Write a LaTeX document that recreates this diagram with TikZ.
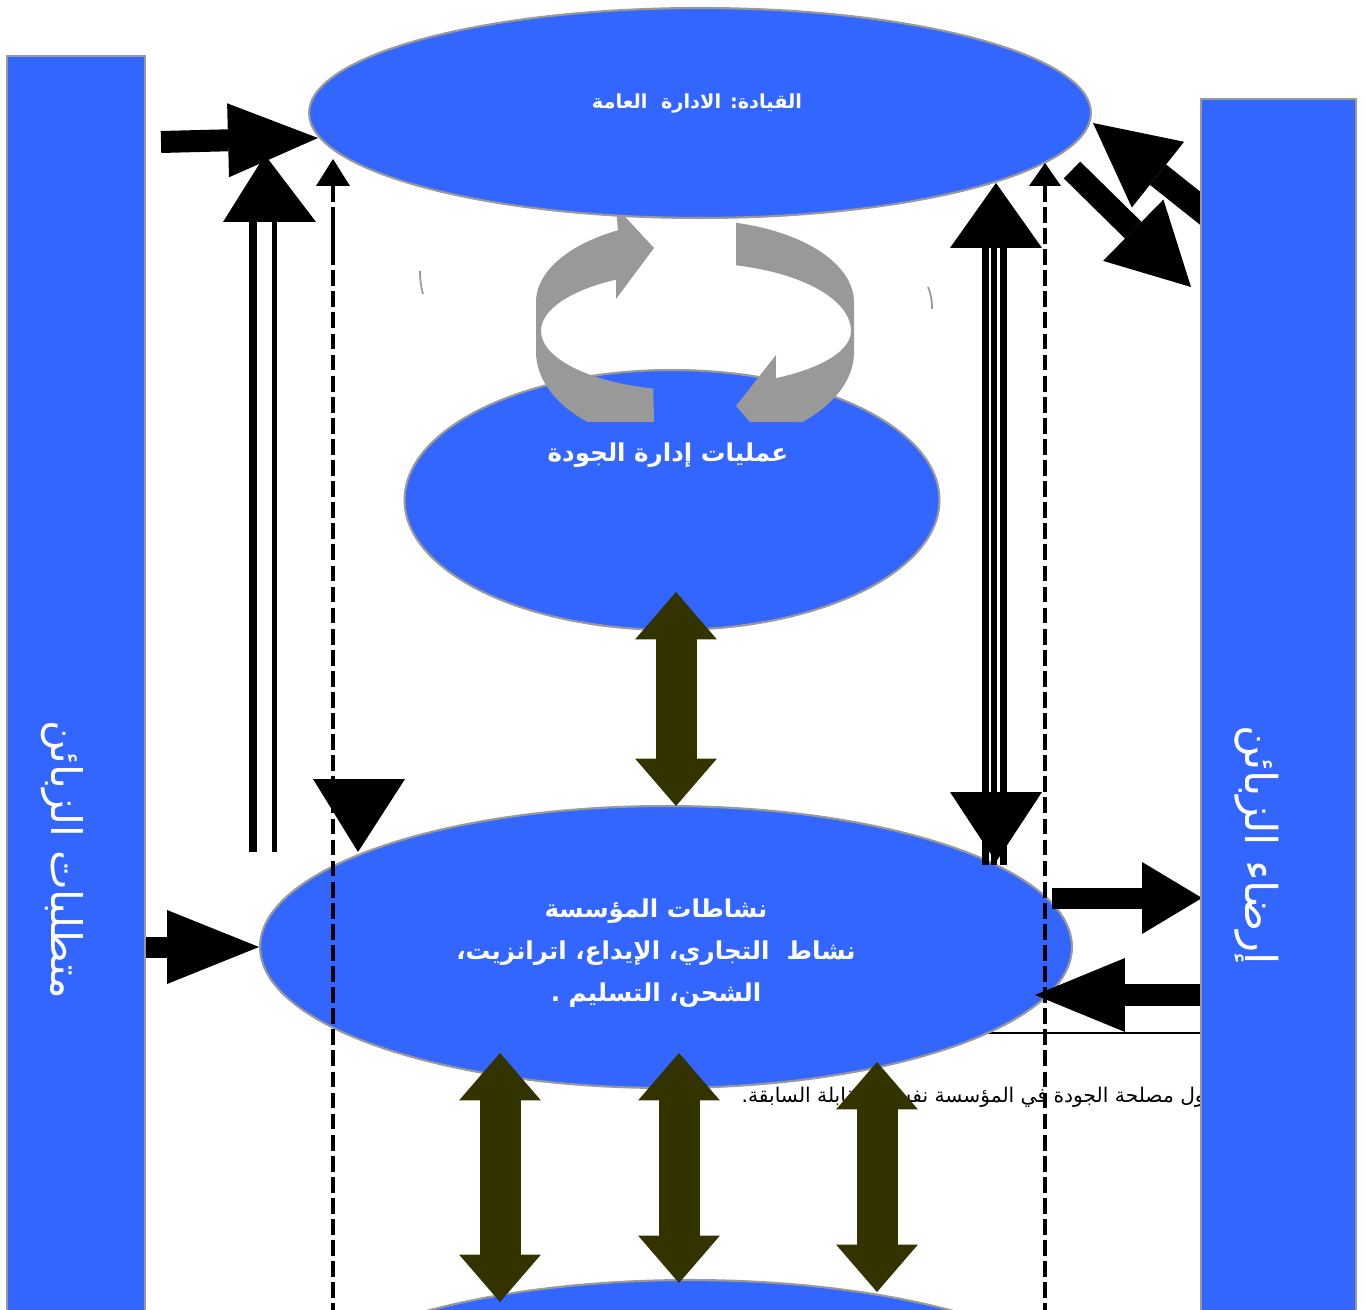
\documentclass[tikz,border=0pt]{standalone}
\usepackage{fontspec}
\newfontfamily\arabicfont[Script=Arabic]{DejaVu Sans}
\TeXXeTstate=1
\usetikzlibrary{shapes.geometric,arrows.meta}
\definecolor{boxblue}{HTML}{3366FF}
\definecolor{darkolive}{HTML}{333300}
\definecolor{rimgray}{HTML}{999999}
\tikzset{
  blob/.style={ellipse, draw=rimgray, line width=1.2pt, fill=boxblue, inner sep=0pt},
  bar/.style={rectangle, draw=rimgray, line width=1.2pt, fill=boxblue, inner sep=0pt},
  lbl/.style={text=white, align=center, inner sep=0pt},
  dashline/.style={line width=2pt, dash pattern=on 9pt off 3pt},
  twoway/.style={darkolive, line width=0.82cm,
    {Triangle[length=0.95cm,width=1.64cm,line width=0pt]}-{Triangle[length=0.95cm,width=1.64cm,line width=0pt]}},
}

\begin{document}
\begin{tikzpicture}[x=0.02cm,y=-0.02cm]
\clip (0,0) rectangle (1365,1310);

% note under the activities
\node[anchor=east, inner sep=0pt, font=\arabicfont\fontsize{11.5}{13}\selectfont] (note) at (1205,1097)
  {\beginR ول مصلحة الجودة في المؤسسة نفس المقابلة السابقة.\endR};
\draw[line width=0.8pt] (985,1033) -- (1202,1033);

% ellipses
\node[blob, minimum width=10.7cm, minimum height=5.2cm] (qproc) at (672,500) {};
\node[blob, minimum width=16.24cm, minimum height=5.64cm] (acts) at (666,947) {};
\node[blob, minimum width=16.8cm, minimum height=5.6cm] (next) at (690,1420) {};

% cycle arrows
\fill[rimgray] (616,207) -- (654,248) -- (616,299) -- (616,279)
  -- plot[domain=121:180,variable=\t,samples=20] ({696+155*cos(\t)},{331-60*sin(\t)})
  -- plot[domain=180:254,variable=\t,samples=20] ({696+155*cos(\t)},{331-60*sin(\t)})
  -- (654,422) -- (588,422)
  -- plot[domain=227.5:180,variable=\t,samples=20] ({695+159*cos(\t)},{352-95*sin(\t)})
  -- plot[domain=180:119,variable=\t,samples=20] ({695+159*cos(\t)},{302-82*sin(\t)})
  -- cycle;
\fill[rimgray] (736,214) -- (736,265)
  -- plot[domain=75:0,variable=\t,samples=20] ({696+155*cos(\t)},{331-68*sin(\t)})
  -- plot[domain=0:-59,variable=\t,samples=20] ({696+155*cos(\t)},{331-55*sin(\t)})
  -- (776,355) -- (736,406) -- (750,422) -- (795,422)
  -- plot[domain=-47.5:0,variable=\t,samples=20] ({695+159*cos(\t)},{352-95*sin(\t)})
  -- plot[domain=0:75,variable=\t,samples=20] ({695+159*cos(\t)},{302-82*sin(\t)})
  -- cycle;
\draw[rimgray, line width=1pt] (420,271) .. controls (420,280) and (421,287) .. (423,294);
\draw[rimgray, line width=1pt] (928,287) .. controls (931,294) and (932,300) .. (932,309);

\node[blob, minimum width=15.64cm, minimum height=4.2cm] (lead) at (700,113) {};

% labels
\node[lbl, font=\arabicfont\bfseries\fontsize{11}{13}\selectfont] at (697,104) {\beginR القيادة: الادارة\ \ العامة\endR};
\node[lbl, font=\arabicfont\bfseries\fontsize{14}{17}\selectfont] at (668,455) {\beginR عمليات إدارة الجودة\endR};
\node[lbl, font=\arabicfont\bfseries\fontsize{14}{24}\selectfont] at (656,953)
  {\beginR نشاطات المؤسسة\endR\\ \beginR نشاط\ \ التجاري، الإيداع، اترانزيت،\endR\\ \beginR الشحن، التسليم .\endR};

% olive two-way arrows
\draw[twoway] (676,592) -- (676,806);
\draw[twoway] (500,1053) -- (500,1302);
\draw[twoway] (679,1053) -- (679,1283);
\draw[twoway] (877,1062) -- (877,1292);

% black arrows
\coordinate (inL) at (161,142);
\draw[line width=0.44cm, -{Triangle[length=1.8cm,width=1.48cm,line width=0pt]}] (inL) -- (318,138);
\coordinate (inA) at (140,947);
\draw[line width=0.42cm, -{Triangle[length=1.84cm,width=1.48cm,line width=0pt]}] (inA) -- (acts.west);
\coordinate (outR) at (1052,898);
\draw[line width=0.42cm, -{Triangle[length=1.2cm,width=1.44cm,line width=0pt]}] (outR) -- (1202,898);
\coordinate (backR) at (1035,995);
\draw[line width=0.44cm, -{Triangle[length=1.8cm,width=1.48cm,line width=0pt]}] (1215,995) -- (backR);
\draw[line width=0.52cm, -{Triangle[length=1.66cm,width=1.68cm,line width=0pt]}] (1215,220) -- (1093,123);
\draw[line width=0.47cm, -{Triangle[length=1.62cm,width=1.72cm,line width=0pt]}] (1072,170) -- (1191,287);

% side bars
\node[bar, minimum width=2.76cm, minimum height=26.88cm] (needs) at (76,728) {};
\node[bar, minimum width=3.1cm, minimum height=26.02cm] (satis) at (1278.5,749.5) {};
\node[lbl, rotate=-90, font=\arabicfont\fontsize{24}{28}\selectfont] at (62,860) {\beginR متطلبات الزبائن\endR};
\node[lbl, rotate=-90, font=\arabicfont\fontsize{25}{29}\selectfont] at (1257,845) {\beginR إرضاء الزبائن\endR};

% left rising pair
\draw[line width=0.16cm] (253,852) -- (253,220);
\draw[line width=0.1cm] (274.5,852) -- (274.5,220);
\fill (223,222) -- (316,222) -- (265,155) -- cycle;

% right pair of heads on triple line
\foreach \xx in {985.5,994,1003.5}
  \draw[line width=0.13cm] (\xx,246) -- (\xx,865);
\fill (950,248) -- (1042,248) -- (996,183) -- cycle;
\fill (950,792) -- (1042,792) -- (996,862) -- cycle;

% dashed guides
\draw[dashline] (333,186) -- (333,1310);
\draw[line width=2pt] (333,222) -- (333,265);
\fill (316,186) -- (350,186) -- (333,159) -- cycle;
\fill (313,779) -- (405,779) -- (358,852) -- cycle;
\draw[dashline] (1045,186) -- (1045,1310);
\fill (1029,186) -- (1061,186) -- (1045,163) -- cycle;
\end{tikzpicture}
\end{document}
